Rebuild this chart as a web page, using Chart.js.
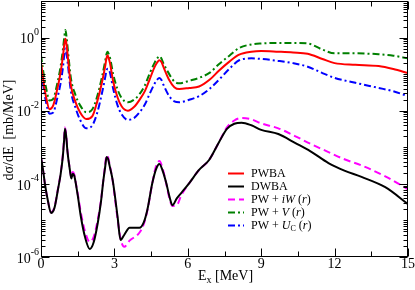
<!DOCTYPE html>
<html>
<head>
<meta charset="utf-8">
<script src="https://cdn.jsdelivr.net/npm/chart.js@4.4.0/dist/chart.umd.min.js"></script>
<style>
  body { margin: 0; background: #fff; }
  canvas { display: block; }
</style>
</head>
<body>
<canvas id="mycanvas" width="415" height="290"></canvas>
<script>
// excitation energies [MeV] for the three upper curves
var energyUpper = [0, 0.1, 0.2, 0.35, 0.5, 0.65, 0.8, 0.9, 0.95, 1.0, 1.05, 1.1, 1.22, 1.4, 1.6, 1.85, 2.1, 2.3, 2.5, 2.62,
    2.67, 2.72, 2.77, 2.82, 2.95, 3.13, 3.3, 3.55, 3.8, 4.02, 4.25, 4.43, 4.65, 4.75, 4.84, 4.93, 5.0, 5.24, 5.45, 5.65,
    6.06, 6.46, 6.9, 7.28, 7.7, 8.1, 8.6, 9.0, 9.7, 10.3, 10.9, 11.5, 12.0, 12.85, 13.8, 14.4, 15.0]

var pwba = [2.1e-1, 6.3e-2, 2.5e-2, 1.1e-2, 1.4e-2, 3.5e-2, 1.1e-1, 3.2e-1, 6.3e-1, 9.3e-1, 6.0e-1, 2.8e-1, 5.0e-2, 1.8e-2, 8.9e-3, 5.9e-3, 7.1e-3, 1.8e-2, 6.3e-2, 1.6e-1,
    2.6e-1, 3.3e-1, 2.7e-1, 2.0e-1, 6.3e-2, 2.3e-2, 1.3e-2, 1.0e-2, 1.26e-2, 1.95e-2, 3.5e-2, 6.9e-2, 1.6e-1, 2.1e-1, 2.4e-1, 2.1e-1, 1.6e-1, 6.9e-2, 4.4e-2, 3.9e-2,
    4.2e-2, 4.6e-2, 7.1e-2, 1.26e-1, 2.2e-1, 3.4e-1, 4.1e-1, 4.3e-1, 4.1e-1, 3.9e-1, 3.6e-1, 2.6e-1, 2.0e-1, 1.8e-1, 1.66e-1, 1.38e-1, 1.07e-1]

var pwV = [3.3e-1, 1.1e-1, 4.5e-2, 1.9e-2, 2.1e-2, 5.0e-2, 1.6e-1, 5.0e-1, 1.0, 1.6, 9.5e-1, 4.5e-1, 7.9e-2, 2.8e-2, 1.4e-2, 9.1e-3, 1.1e-2, 2.5e-2, 8.9e-2, 2.2e-1,
    3.4e-1, 4.1e-1, 3.5e-1, 2.8e-1, 1.0e-1, 3.8e-2, 2.2e-2, 1.7e-2, 2.0e-2, 2.8e-2, 5.0e-2, 1.0e-1, 2.1e-1, 2.7e-1, 3.1e-1, 2.6e-1, 2.0e-1, 1.0e-1, 6.3e-2, 5.6e-2,
    6.6e-2, 7.9e-2, 1.1e-1, 1.9e-1, 3.2e-1, 5.2e-1, 6.5e-1, 6.9e-1, 7.1e-1, 7.1e-1, 6.9e-1, 4.7e-1, 3.7e-1, 3.7e-1, 3.5e-1, 3.2e-1, 2.7e-1]

var pwUc = [1.55e-1, 4.5e-2, 1.8e-2, 8.3e-3, 8.9e-3, 2.0e-2, 5.6e-2, 1.6e-1, 3.3e-1, 5.0e-1, 3.4e-1, 1.8e-1, 3.5e-2, 1.26e-2, 5.6e-3, 3.3e-3, 4.0e-3, 8.9e-3, 3.2e-2, 7.9e-2,
    1.2e-1, 1.4e-1, 1.35e-1, 1.1e-1, 4.0e-2, 1.4e-2, 7.9e-3, 5.6e-3, 6.3e-3, 8.9e-3, 1.5e-2, 2.8e-2, 5.6e-2, 7.1e-2, 7.8e-2, 6.8e-2, 5.2e-2, 2.5e-2, 1.8e-2, 1.7e-2,
    2.0e-2, 2.5e-2, 4.0e-2, 7.1e-2, 1.4e-1, 2.4e-1, 2.7e-1, 2.6e-1, 2.3e-1, 2.0e-1, 1.6e-1, 1.07e-1, 7.9e-2, 5.8e-2, 4.2e-2, 3.4e-2, 2.5e-2]

// excitation energies [MeV] for the two lower curves
var energyLower = [0, 0.08, 0.16, 0.28, 0.41, 0.55, 0.69, 0.8, 0.89, 0.94, 0.98, 1.03, 1.08, 1.18, 1.24, 1.3, 1.36, 1.42, 1.52, 1.63,
    1.8, 1.99, 2.15, 2.32, 2.45, 2.55, 2.62, 2.68, 2.74, 2.8, 2.93, 3.13, 3.25, 3.4, 3.62, 4.02, 4.2, 4.35, 4.55, 4.7,
    4.84, 4.98, 5.12, 5.25, 5.37, 5.55, 5.73, 6.06, 6.46, 6.87, 7.28, 7.6, 7.9, 8.2, 8.6, 9.0, 9.7, 10.4, 11.0, 11.75,
    12.4, 13.1, 14.07, 15.0]

var dwba = [5.4e-4, 2.5e-4, 1.0e-4, 3.5e-5, 1.6e-5, 2.2e-5, 6.8e-5, 1.8e-4, 5.4e-4, 1.4e-3, 3.2e-3, 2.0e-3, 7.9e-4, 2.4e-4, 1.4e-4, 1.9e-4, 1.66e-4, 1.05e-4, 4.0e-5, 1.26e-5,
    3.5e-6, 1.66e-6, 2.5e-6, 8.5e-6, 3.2e-5, 1.26e-4, 2.8e-4, 5.4e-4, 4.8e-4, 3.2e-4, 1.26e-4, 1.26e-5, 2.9e-6, 4.0e-6, 6.3e-6, 6.3e-6, 8.9e-6, 2.0e-5, 1.05e-4, 2.5e-4,
    3.5e-4, 2.2e-4, 1.05e-4, 4.5e-5, 2.6e-5, 4.0e-5, 5.6e-5, 1.05e-4, 2.4e-4, 4.5e-4, 1.4e-3, 3.2e-3, 4.4e-3, 4.7e-3, 4.0e-3, 3.0e-3, 2.3e-3, 1.3e-3, 7.9e-4, 3.7e-4,
    2.3e-4, 1.55e-4, 8.1e-5, 2.8e-5]

var pwiW = [5.4e-4, 2.5e-4, 1.0e-4, 3.5e-5, 1.66e-5, 2.3e-5, 7.1e-5, 1.9e-4, 6.0e-4, 1.6e-3, 3.5e-3, 2.2e-3, 8.3e-4, 2.5e-4, 1.5e-4, 2.1e-4, 1.8e-4, 1.1e-4, 4.5e-5, 1.6e-5,
    5.0e-6, 2.6e-6, 3.5e-6, 1.05e-5, 3.5e-5, 1.3e-4, 3.2e-4, 6.0e-4, 5.4e-4, 3.5e-4, 1.2e-4, 1.1e-5, 3.2e-6, 1.9e-6, 2.8e-6, 4.6e-6, 7.9e-6, 1.9e-5, 1.05e-4, 3.0e-4,
    4.2e-4, 2.5e-4, 1.0e-4, 4.0e-5, 2.5e-5, 2.6e-5, 4.8e-5, 1.05e-4, 2.4e-4, 4.5e-4, 1.4e-3, 3.5e-3, 5.4e-3, 6.3e-3, 5.8e-3, 4.5e-3, 3.3e-3, 2.0e-3, 1.26e-3, 7.4e-4,
    4.7e-4, 3.2e-4, 1.6e-4, 7.1e-5]

var xTicks = [0, 3, 6, 9, 12, 15]
var yTickExps = [0, -2, -4, -6]

// legend texts, pieces: [text, style] with '' normal, 'i' italic, 's' subscript
var legendTexts = [
    [['PWBA', '']],
    [['DWBA', '']],
    [['PW + ', ''], ['iW', 'i'], [' (', ''], ['r', 'i'], [')', '']],
    [['PW + ', ''], ['V', 'i'], [' (', ''], ['r', 'i'], [')', '']],
    [['PW + ', ''], ['U', 'i'], ['C', 's'], [' (', ''], ['r', 'i'], [')', '']]
]

var SERIF = '"Liberation Serif", "Times New Roman", serif'

function pts(xs, ys) {
    return xs.map(function(x, i){ return {x: x, y: ys[i]} })
}

function drawRich(ctx, parts, x, y, size) {
    ctx.textBaseline = 'middle'
    ctx.textAlign = 'left'
    parts.forEach(function(p){
        var dy = 0
        if (p[1] === 'i') ctx.font = 'italic ' + size + 'px ' + SERIF
        else if (p[1] === 's') { ctx.font = Math.round(size * 0.7) + 'px ' + SERIF; dy = size * 0.3 }
        else ctx.font = size + 'px ' + SERIF
        ctx.fillText(p[0], x, y + dy)
        x += ctx.measureText(p[0]).width
    })
}

var axesPlugin = {
    id: 'axesPlugin',
    afterDraw: function(chart) {
        var ctx = chart.ctx
        var a = chart.chartArea
        var xs = chart.scales.x, ys = chart.scales.y
        var L = Math.round(a.left) + 0.5, R = Math.round(a.right) - 0.5
        var T = Math.round(a.top) + 0.5, B = Math.round(a.bottom) - 0.5
        ctx.save()
        ctx.strokeStyle = '#000'
        ctx.lineWidth = 1
        ctx.strokeRect(L, T, R - L, B - T)
        ctx.beginPath()
        // x ticks, major every 3, minor every 1.5
        for (var v = 0; v <= 15; v += 1.5) {
            var px = Math.round(xs.getPixelForValue(v)) + 0.5
            var len = (v % 3 === 0) ? 8 : 5
            ctx.moveTo(px, B); ctx.lineTo(px, B - len)
            ctx.moveTo(px, T); ctx.lineTo(px, T + len)
        }
        // y ticks on log scale
        for (var e = -6; e <= 0; e++) {
            for (var m = 1; m <= 9; m++) {
                var py = Math.round(ys.getPixelForValue(m * Math.pow(10, e))) + 0.5
                var l2 = (m === 1 && e % 2 === 0) ? 8 : 4
                ctx.moveTo(L, py); ctx.lineTo(L + l2, py)
                ctx.moveTo(R, py); ctx.lineTo(R - l2, py)
            }
        }
        ctx.stroke()

        ctx.fillStyle = '#000'
        ctx.textBaseline = 'middle'
        ctx.textAlign = 'center'
        ctx.font = '14px ' + SERIF
        xTicks.forEach(function(t){
            ctx.fillText(String(t), xs.getPixelForValue(t), 264)
        })
        yTickExps.forEach(function(e){
            var py = ys.getPixelForValue(Math.pow(10, e))
            var ex = e === 0 ? '0' : String(e)
            ctx.font = '10px ' + SERIF
            ctx.textAlign = 'right'
            var w = ctx.measureText(ex).width
            ctx.fillText(ex, 39, py - 5)
            ctx.font = '14px ' + SERIF
            ctx.fillText('10', 39 - w, py + 2)
        })

        // axis titles
        var ttl = [['E', ''], ['x', 's'], [' [MeV]', '']]
        ctx.font = '14px ' + SERIF
        var tw = ctx.measureText('E [MeV]').width + 6
        drawRich(ctx, ttl, 226 - tw / 2, 276, 14)

        ctx.save()
        ctx.translate(9, 130)
        ctx.rotate(-Math.PI / 2)
        ctx.font = '14px ' + SERIF
        ctx.textAlign = 'center'
        ctx.textBaseline = 'middle'
        ctx.fillText('d\u03c3/dE  [mb/MeV]', 0, 0)
        ctx.restore()

        // legend
        chart.data.datasets.forEach(function(ds, i){
            var ly = 173.5 + i * 13
            ctx.save()
            ctx.strokeStyle = ds.borderColor
            ctx.lineWidth = ds.borderWidth
            ctx.setLineDash(ds.borderDash || [])
            ctx.beginPath()
            ctx.moveTo(228, ly); ctx.lineTo(244, ly)
            ctx.stroke()
            ctx.restore()
            ctx.fillStyle = '#000'
            drawRich(ctx, legendTexts[i], 251, ly, 12)
        })
        ctx.restore()
    }
}

var context = document.getElementById('mycanvas').getContext('2d')

var data = {
    datasets: [{
        label: 'PWBA',
        data: pts(energyUpper, pwba),
        borderColor: '#ff0000',
        borderWidth: 2
    }, {
        label: 'DWBA',
        data: pts(energyLower, dwba),
        borderColor: '#000000',
        borderWidth: 2
    }, {
        label: 'PW + iW (r)',
        data: pts(energyLower, pwiW),
        borderColor: '#ff00ff',
        borderWidth: 2,
        borderDash: [7, 4]
    }, {
        label: 'PW + V (r)',
        data: pts(energyUpper, pwV),
        borderColor: '#008000',
        borderWidth: 2,
        borderDash: [7, 3, 2, 3]
    }, {
        label: 'PW + Uc (r)',
        data: pts(energyUpper, pwUc),
        borderColor: '#0000ff',
        borderWidth: 2,
        borderDash: [7, 3, 2, 3]
    }]
}

var chart = new Chart(context, {
    type: 'line',
    data: data,
    plugins: [axesPlugin],
    options: {
        responsive: false,
        animation: false,
        layout: { padding: { left: 41, right: 7, top: 1, bottom: 33 } },
        elements: {
            point: { radius: 0 },
            line: { cubicInterpolationMode: 'monotone', fill: false }
        },
        plugins: { legend: { display: false }, tooltip: { enabled: false } },
        scales: {
            x: { type: 'linear', min: 0, max: 15, display: false },
            y: { type: 'logarithmic', min: 1e-6, max: 10, display: false }
        }
    }
})
</script>
</body>
</html>
